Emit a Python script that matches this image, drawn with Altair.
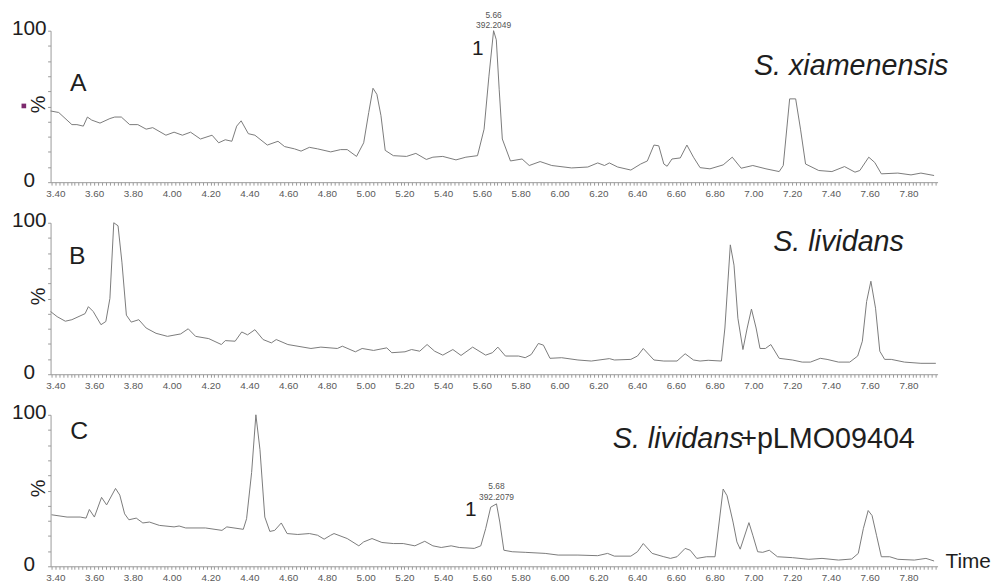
import altair as alt
import pandas as pd

# ---------------- data ----------------
t_A = [3.375, 3.417, 3.434, 3.485, 3.511, 3.544, 3.565, 3.587, 3.630, 3.681,
       3.706, 3.740, 3.783, 3.825, 3.868, 3.902, 3.970, 4.012, 4.055, 4.097,
       4.148, 4.208, 4.242, 4.276, 4.310, 4.335, 4.358, 4.395, 4.429, 4.493,
       4.548, 4.582, 4.633, 4.667, 4.710, 4.752, 4.820, 4.871, 4.905, 4.953,
       4.990, 5.016, 5.038, 5.058, 5.079, 5.101, 5.143, 5.211, 5.259, 5.313,
       5.347, 5.398, 5.466, 5.517, 5.577, 5.611, 5.636, 5.660, 5.674, 5.689,
       5.705, 5.747, 5.807, 5.844, 5.900, 5.960, 6.062, 6.146, 6.197, 6.232,
       6.257, 6.300, 6.368, 6.419, 6.453, 6.487, 6.512, 6.538, 6.555, 6.580,
       6.623, 6.657, 6.691, 6.725, 6.776, 6.844, 6.891, 6.937, 6.997, 7.065,
       7.133, 7.154, 7.187, 7.218, 7.243, 7.269, 7.337, 7.405, 7.470, 7.524,
       7.549, 7.595, 7.626, 7.660, 7.745, 7.813, 7.864, 7.932]
v_A = [47, 46, 44, 38, 38, 37, 43, 41, 39, 42,
       43, 43, 38, 38, 35, 36, 31, 33, 31, 33,
       28.5, 31, 26, 28, 27, 37, 40.5, 32, 31, 24.5,
       27, 23.5, 22, 20.5, 23, 22, 20, 21.5, 21.5, 17,
       26, 46, 62, 58, 44, 21, 17.5, 17, 19, 15,
       16.5, 17, 14.7, 16.5, 17.5, 35, 70, 100, 94, 61,
       28.5, 14, 15.3, 11, 13.6, 11, 9.4, 10, 12.7, 11,
       12.7, 10, 8, 12, 14, 24.5, 24, 12, 10.5, 15.3,
       16, 24.5, 16.5, 9.6, 8.8, 11.4, 16.5, 9.2, 11, 8.8,
       7, 11, 55, 55, 35, 12, 7.7, 7, 10.3, 6.6,
       7.7, 16.5, 13, 5.5, 6, 4.8, 6, 4.4]

t_B = [3.375, 3.409, 3.451, 3.485, 3.553, 3.570, 3.595, 3.635, 3.660, 3.681,
       3.701, 3.723, 3.743, 3.766, 3.791, 3.830, 3.868, 3.919, 3.978, 4.046,
       4.085, 4.123, 4.191, 4.256, 4.276, 4.327, 4.361, 4.391, 4.429, 4.471,
       4.514, 4.539, 4.599, 4.718, 4.769, 4.854, 4.880, 4.947, 4.982, 5.041,
       5.109, 5.135, 5.203, 5.237, 5.279, 5.317, 5.356, 5.398, 5.450, 5.492,
       5.552, 5.619, 5.654, 5.682, 5.721, 5.789, 5.823, 5.854, 5.891, 5.917,
       5.951, 6.011, 6.095, 6.164, 6.257, 6.283, 6.368, 6.402, 6.432, 6.487,
       6.538, 6.606, 6.648, 6.691, 6.725, 6.767, 6.835, 6.853, 6.881, 6.900,
       6.920, 6.946, 6.968, 6.990, 7.014, 7.034, 7.062, 7.090, 7.133, 7.201,
       7.252, 7.294, 7.345, 7.380, 7.439, 7.497, 7.538, 7.562, 7.584, 7.606,
       7.630, 7.652, 7.677, 7.711, 7.779, 7.864, 7.941]
v_B = [41.4, 38, 35, 36, 40, 44.6, 41.4, 32.7, 34.8, 50,
       100, 98, 74, 39, 34.4, 36, 30.5, 27, 25, 26.6,
       30, 25, 23.5, 19.6, 22.2, 21.8, 27.9, 26, 29.4, 22.9,
       20.7, 22.9, 19.6, 17, 17.9, 17, 18.5, 14.8, 17, 15.7,
       17.4, 14.2, 14.8, 16.3, 15.2, 19.6, 15.2, 12.6, 16.3, 12.4,
       17.9, 12.6, 14.2, 17.9, 12, 12, 10.9, 13, 20.3, 19.2,
       10.5, 10.9, 9.4, 8.7, 10.3, 9.4, 9.8, 12, 17, 9.4,
       8.7, 8.7, 13.5, 9.4, 8.7, 9.2, 8.7, 30.5, 85.4, 72,
       37, 16.3, 30.5, 43, 30.5, 17, 17, 19.6, 10.5, 9.4,
       8, 8, 10.5, 9.8, 8, 8, 12, 21.8, 48, 61.4,
       43.6, 15.2, 9.8, 9.8, 8, 7.2, 7.2]

t_C = [3.380, 3.460, 3.528, 3.558, 3.575, 3.601, 3.638, 3.664, 3.710, 3.732,
       3.757, 3.779, 3.817, 3.851, 3.885, 3.936, 4.012, 4.038, 4.072, 4.174,
       4.259, 4.284, 4.369, 4.386, 4.412, 4.434, 4.455, 4.480, 4.506, 4.531,
       4.565, 4.595, 4.650, 4.710, 4.752, 4.786, 4.820, 4.837, 4.905, 4.965,
       4.990, 5.033, 5.084, 5.143, 5.194, 5.254, 5.305, 5.347, 5.390, 5.441,
       5.483, 5.560, 5.594, 5.619, 5.645, 5.675, 5.692, 5.713, 5.756, 5.823,
       5.926, 5.993, 6.095, 6.197, 6.248, 6.283, 6.368, 6.402, 6.432, 6.478,
       6.538, 6.572, 6.606, 6.648, 6.674, 6.708, 6.759, 6.802, 6.844, 6.864,
       6.895, 6.915, 6.932, 6.977, 6.997, 7.022, 7.048, 7.082, 7.124, 7.201,
       7.286, 7.354, 7.439, 7.507, 7.541, 7.567, 7.592, 7.612, 7.635, 7.660,
       7.703, 7.745, 7.830, 7.890, 7.932]
v_C = [34, 32.5, 32.5, 31.8, 37.5, 32.5, 45.5, 40.5, 51.4, 47,
       34.6, 30.7, 31.8, 28.6, 29.2, 27, 26, 26.6, 25.3, 25.3,
       23.7, 26, 24.4, 31.4, 61.9, 100, 77, 32.5, 23, 23.7,
       28.6, 21.6, 21, 21.6, 20.5, 17.9, 20.5, 21.6, 18.3, 13.5,
       16.1, 18.3, 15.7, 15, 15, 13.5, 16.5, 13.5, 12.4, 13.5,
       12.4, 11.8, 13.5, 24.8, 39, 41.2, 29.2, 10.6, 9.6, 9.2,
       8.5, 7.4, 7.4, 7, 8.5, 6.7, 6.7, 9.6, 15, 8.5,
       6.3, 5.2, 6.3, 11.8, 10.6, 5.2, 6.3, 6.3, 51, 46.6,
       29.2, 16.1, 11.3, 28.8, 20.5, 9.6, 9.2, 10.6, 6.3, 5.7,
       4.6, 5.2, 4.1, 4.8, 8.5, 24.8, 36.8, 33.5, 20.5, 6.3,
       6.3, 4.6, 4.1, 5.2, 3.5]

assert len(t_A) == len(v_A) and len(t_B) == len(v_B) and len(t_C) == len(v_C)

letters = ["A", "B", "C"]
species_italic = ["S. xiamenensis", "S. lividans", "S. lividans"]
species_plain = ["", "", "+pLMO09404"]
# peak annotations (retention time, intensity, text lines)
ann_A = {"t": [5.66], "v": [100], "rt": ["5.66"], "mz": ["392.2049"], "num": ["1"]}
ann_C = {"t": [5.675], "v": [41.2], "rt": ["5.68"], "mz": ["392.2079"], "num": ["1"]}

# ---------------- styling ----------------
FONT = "Liberation Sans"
W, H = 896, 153
X_DOMAIN = [3.375, 7.95]
LINE_COLOR = "#7a7a7a"
AXIS_COLOR = "#9a9a9a"
TEXT_DARK = "#1e1e1e"
SPECIES_SIZE = 29

x_tick_values = [round(3.38 + 0.02 * i, 2) for i in range(229)]
x_label_expr = ("abs(datum.value * 5 - round(datum.value * 5)) < 0.01 "
                "? format(datum.value, '.2f') : ''")

X_AXIS = alt.Axis(values=x_tick_values, labelExpr=x_label_expr, title=None,
                  grid=False, tickSize=3, tickColor=AXIS_COLOR,
                  domainColor=AXIS_COLOR, labelFontSize=10,
                  labelColor="#5a5a5a", labelPadding=3,
                  labelOverlap=False, labelFlush=False, labelBound=False)
Y_AXIS = alt.Axis(values=list(range(0, 101, 10)),
                  labelExpr="datum.value == 0 || datum.value == 100 ? datum.value : ''",
                  title=None, grid=False, tickSize=3, tickColor=AXIS_COLOR,
                  domainColor=AXIS_COLOR, labelFontSize=21,
                  labelColor=TEXT_DARK, labelAlign="center", labelOffset=-2,
                  labelPadding=19, labelOverlap=False, labelFlush=False,
                  labelBound=False)


def xenc():
    return alt.X("t:Q", scale=alt.Scale(domain=X_DOMAIN, nice=False, zero=False),
                 axis=X_AXIS)


def yenc():
    return alt.Y("v:Q", scale=alt.Scale(domain=[0, 100], nice=False), axis=Y_AXIS)


def panel(t, v, idx, ann=None, ann_off=(-16, -6, -16, 19), time_label=False,
          marker=False):
    df = pd.DataFrame({"t": t, "v": v})
    line = alt.Chart(df).mark_line(color=LINE_COLOR, strokeWidth=1).encode(
        x=xenc(), y=yenc())

    layers = [line]
    anchor = alt.Chart(pd.DataFrame({"k": [0]}))

    # y-axis "%" label
    layers.append(anchor.mark_text(text="%", angle=270, fontSize=20,
                                   color=TEXT_DARK, font=FONT).encode(
        x=alt.value(-12), y=alt.value(H / 2 - 2)))
    # panel letter
    letter_pos = [(28, 53), (27, 34), (29, 16)][idx]
    layers.append(anchor.mark_text(text=letters[idx], fontSize=25,
                                   color=TEXT_DARK, font=FONT).encode(
        x=alt.value(letter_pos[0]), y=alt.value(letter_pos[1])))
    # species label
    sp_right, sp_y = [(907, 36), (862, 20), (873, 25)][idx]
    if species_plain[idx]:
        layers.append(anchor.mark_text(text=species_plain[idx], fontSize=SPECIES_SIZE,
                                       align="right", color=TEXT_DARK,
                                       font=FONT).encode(
            x=alt.value(sp_right), y=alt.value(sp_y)))
        plain_w = 173
        layers.append(anchor.mark_text(text=species_italic[idx], fontSize=SPECIES_SIZE,
                                       fontStyle="italic", align="right",
                                       color=TEXT_DARK, font=FONT).encode(
            x=alt.value(sp_right - plain_w), y=alt.value(sp_y)))
    else:
        layers.append(anchor.mark_text(text=species_italic[idx], fontSize=SPECIES_SIZE,
                                       fontStyle="italic", align="right",
                                       color=TEXT_DARK, font=FONT).encode(
            x=alt.value(sp_right), y=alt.value(sp_y)))

    if ann is not None:
        base = alt.Chart(pd.DataFrame(ann))
        dy_rt, dy_mz, dx_num, dy_num = ann_off
        layers.append(base.mark_text(fontSize=8.5, color="#555555", font=FONT,
                                     dy=dy_rt).encode(x=xenc(), y=yenc(), text="rt:N"))
        layers.append(base.mark_text(fontSize=8.5, color="#555555", font=FONT,
                                     dy=dy_mz).encode(x=xenc(), y=yenc(), text="mz:N"))
        layers.append(base.mark_text(fontSize=21, color=TEXT_DARK, font=FONT,
                                     dx=dx_num, dy=dy_num).encode(
            x=xenc(), y=yenc(), text="num:N"))

    if time_label:
        layers.append(anchor.mark_text(text="Time", fontSize=21, align="left",
                                       color=TEXT_DARK, font=FONT).encode(
            x=alt.value(W + 8), y=alt.value(H - 4)))
    if marker:
        layers.append(anchor.mark_square(size=22, color="#7d2a6e", opacity=1).encode(
            x=alt.value(-27), y=alt.value(76)))

    return alt.layer(*layers).properties(width=W, height=H)


pA = panel(t_A, v_A, 0, ann=ann_A, ann_off=(-16, -6, -16, 19), marker=True)
pB = panel(t_B, v_B, 1)
pC = panel(t_C, v_C, 2, ann=ann_C, ann_off=(-18, -7, -26, 6), time_label=True)

chart = alt.vconcat(pA, pB, pC, spacing=41, bounds="flush").properties(
    padding={"left": 3, "top": 0, "right": 4, "bottom": 2}
).configure(font=FONT).configure_view(stroke=None)

chart.save("out.html", embed_options={"renderer": "svg", "actions": False})
